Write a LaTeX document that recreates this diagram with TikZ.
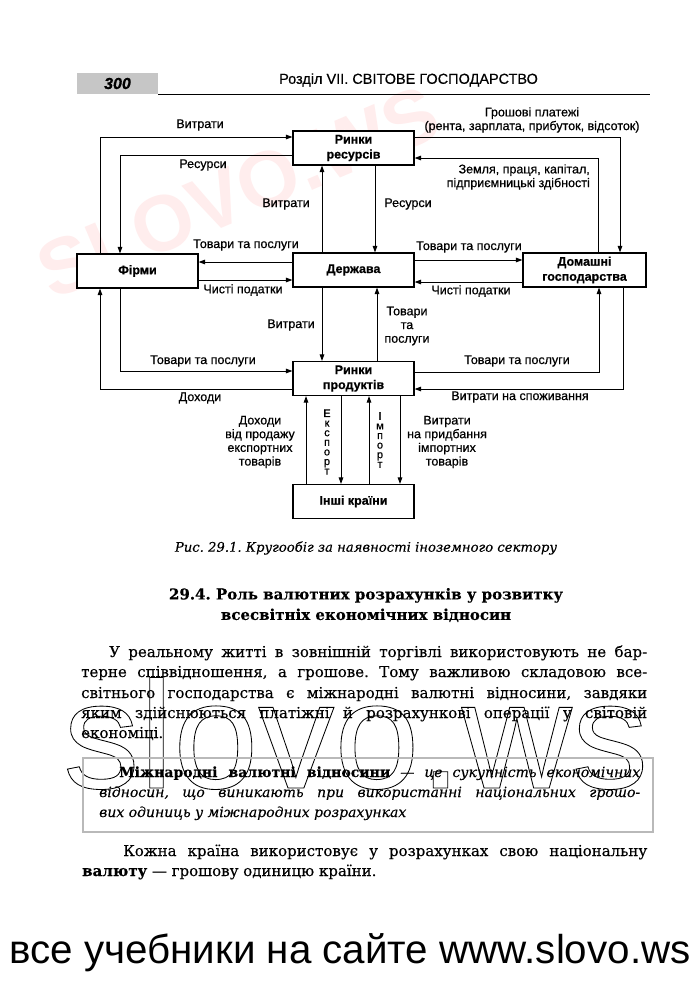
\documentclass[tikz,border=0pt]{standalone}
\usepackage{fontspec}
\usepackage{graphicx}
\setmainfont{DejaVu Serif}[FakeBold=0.25]
\newfontfamily\lab{Liberation Sans}[FakeBold=0.6]
\newfontfamily\foot{Liberation Sans}
\usetikzlibrary{arrows.meta}
\frenchspacing
\newcommand{\outlinetext}[1]{\special{pdf:literal direct 1 Tr 0.8 w}#1\special{pdf:literal direct 0 Tr}}
\begin{document}
\begin{tikzpicture}[x=1pt,y=-1pt,
  box/.style={draw, fill=white, line width=1.1pt, minimum width=121pt, minimum height=34pt, inner sep=0pt, align=center, font=\lab\bfseries\fontsize{12.5}{15}\selectfont},
  lbl/.style={inner sep=0pt, align=center, font=\lab\fontsize{12.5}{13.7}\selectfont},
  vlbl/.style={inner sep=0pt, align=center, font=\lab\fontsize{11}{9.6}\selectfont},
  arr/.style={line width=1pt, -{Triangle[length=6.5pt,width=4.5pt]}},
  body/.style={inner sep=0pt, anchor=base west, font=\fontsize{15}{20}\selectfont},
  defn/.style={inner sep=0pt, anchor=base west, font=\fontsize{14}{20}\selectfont}]
\useasboundingbox (0,0) rectangle (700,988);
\fill[white] (0,0) rectangle (700,988);

% watermarks
\node[inner sep=0pt, anchor=base west, font=\foot\fontsize{145}{145}\selectfont] (wm) at (63,788) {\resizebox{585pt}{!}{\outlinetext{slovo.ws}}};
\node[inner sep=0pt, rotate=23, text=red!7, font=\foot\bfseries\fontsize{79}{79}\selectfont] (wm2) at (238,192) {SLOVO.WS};

% header
\node[fill=gray!45, minimum width=81pt, minimum height=21pt, inner sep=0pt,
      font=\lab\bfseries\itshape\fontsize{16}{16}\selectfont] (pg) at (117.5,83.5) {300};
\node[inner sep=0pt, font=\lab\fontsize{14.5}{15}\selectfont] (ttl) at (408.5,80) {Розділ VII. СВІТОВЕ ГОСПОДАРСТВО};
\draw[line width=0.8pt] (pg.south east) -- ++(492,0);

% boxes
\node[box] (rr) at (353.5,148) {Ринки\\ресурсів};
\node[box] (firms) at (137.5,271) {Фірми};
\node[box] (st) at (353.5,270) {Держава};
\node[box, minimum width=123pt] (hh) at (584.5,270) {Домашні\\господарства};
\node[box] (rp) at (353.5,378.5) {Ринки\\продуктів};
\node[box] (oc) at (353.5,501.5) {Інші країни};

% connectors
\draw[arr] ([xshift=-37.5pt]firms.north) |- ([yshift=11pt]rr.west);
\draw[arr] ([yshift=-7pt]rr.west) -| ([xshift=-17.5pt]firms.north);
\draw[arr] ([xshift=-31.5pt]st.north) -- ([xshift=-31.5pt]rr.south);
\draw[arr] ([xshift=21.5pt]rr.south) -- ([xshift=21.5pt]st.north);
\draw[arr] ([yshift=11pt]rr.east) -| ([xshift=35.5pt]hh.north);
\draw[arr] ([xshift=13.5pt]hh.north) |- ([yshift=-10pt]rr.east);
\draw[arr] ([yshift=8pt]st.west) -- ([yshift=9pt]firms.east);
\draw[arr] ([yshift=-9pt]firms.east) -- ([yshift=-10pt]st.west);
\draw[arr] ([yshift=10pt]st.east) -- ([yshift=10pt]hh.west);
\draw[arr] ([yshift=-12pt]hh.west) -- ([yshift=-12pt]st.east);
\draw[arr] ([xshift=-31.5pt]st.south) -- ([xshift=-31.5pt]rp.north);
\draw[arr] ([xshift=23.5pt]rp.north) -- ([xshift=23.5pt]st.south);
\draw[arr] ([xshift=-17.5pt]firms.south) |- ([yshift=7.5pt]rp.west);
\draw[arr] ([yshift=-10.5pt]rp.west) -| ([xshift=-37.5pt]firms.south);
\draw[arr] ([yshift=6.5pt]rp.east) -| ([xshift=14.5pt]hh.south);
\draw[arr] ([xshift=38.5pt]hh.south) |- ([yshift=-10.5pt]rp.east);
\draw[arr] ([xshift=-47.5pt]oc.north) -- ([xshift=-47.5pt]rp.south);
\draw[arr] ([xshift=-12.5pt]rp.south) -- ([xshift=-12.5pt]oc.north);
\draw[arr] ([xshift=15.5pt]oc.north) -- ([xshift=15.5pt]rp.south);
\draw[arr] ([xshift=46.5pt]rp.south) -- ([xshift=46.5pt]oc.north);

% labels
\node[lbl] (l1) at (200,125) {Витрати};
\node[lbl] (l2) at (203,165) {Ресурси};
\node[lbl] (l3) at (286,204) {Витрати};
\node[lbl] (l4) at (408,204) {Ресурси};
\node[lbl] (l5) at (532,120) {Грошові платежі\\(рента, зарплата, прибуток, відсоток)};
\node[lbl, align=right, anchor=east] (l6) at (590,177) {Земля, праця, капітал,\\підприємницькі здібності};
\node[lbl] (l7) at (246,245) {Товари та послуги};
\node[lbl] (l8) at (243,290) {Чисті податки};
\node[lbl] (l9) at (469,247) {Товари та послуги};
\node[lbl] (l10) at (471,291) {Чисті податки};
\node[lbl] (l11) at (291,325) {Витрати};
\node[lbl] (l12) at (407,326) {Товари\\та\\послуги};
\node[lbl] (l13) at (203,361) {Товари та послуги};
\node[lbl] (l14) at (200,398) {Доходи};
\node[lbl] (l15) at (517,361) {Товари та послуги};
\node[lbl] (l16) at (520,397) {Витрати на споживання};
\node[lbl] (l17) at (260,442) {Доходи\\від продажу\\експортних\\товарів};
\node[lbl] (l18) at (447,442) {Витрати\\на придбання\\імпортних\\товарів};
\node[vlbl] (l19) at (327,442) {Е\\к\\с\\п\\о\\р\\т};
\node[vlbl] (l20) at (380,440) {І\\м\\п\\о\\р\\т};

% caption
\node[inner sep=0pt, font=\itshape\fontsize{13.2}{15}\selectfont] (cap) at (366,548) {Рис. 29.1. Кругообіг за наявності іноземного сектору};

% heading
\node[inner sep=0pt, align=center, font=\bfseries\fontsize{15}{20.5}\selectfont] (hd) at (366,605) {29.4. Роль валютних розрахунків у розвитку\\всесвітніх економічних відносин};

% paragraph
\node[body] (p1) at (81,657) {\makebox[566pt][s]{\hspace{28pt}У реальному житті в зовнішній торгівлі використовують не бар-}};
\node[body] (p2) at (81,677) {\makebox[566pt][s]{терне співвідношення, а грошове. Тому важливою складовою все-}};
\node[body] (p3) at (81,698) {\makebox[566pt][s]{світнього господарства є міжнародні валютні відносини, завдяки}};
\node[body] (p4) at (81,718) {\makebox[566pt][s]{яким здійснюються платіжні й розрахункові операції у світовій}};
\node[body] (p5) at (81,738) {економіці.};

% definition box
\draw[gray!55, line width=1.2pt] (83,758) rectangle (653,832);
\node[defn] (d1) at (119,777) {\makebox[521pt][s]{\textbf{Міжнародні валютні відносини} — \textit{це сукупність економічних}}};
\node[defn] (d2) at (99,797) {\makebox[541pt][s]{\itshape відносин, що виникають при використанні національних грошо-}};
\node[defn] (d3) at (99,817) {\itshape вих одиниць у міжнародних розрахунках};

% last paragraph
\node[body] (q1) at (123,856) {\makebox[524pt][s]{Кожна країна використовує у розрахунках свою національну}};
\node[body] (q2) at (82,876) {\textbf{валюту} — грошову одиницю країни.};

% footer
\node[inner sep=0pt, anchor=base, font=\foot\fontsize{39}{40}\selectfont] (ft) at (350,963) {\resizebox{681pt}{!}{все учебники на сайте www.slovo.ws}};
\end{tikzpicture}
\end{document}
